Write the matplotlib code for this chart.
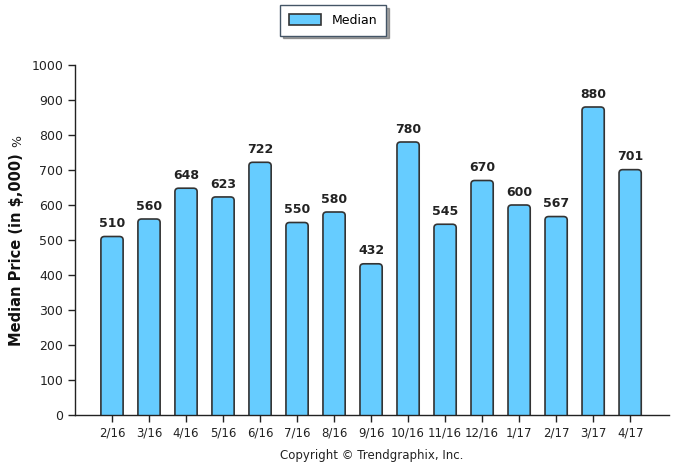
import matplotlib
matplotlib.use("Agg")
import matplotlib.pyplot as plt
from matplotlib.patches import FancyBboxPatch, Patch

categories = ["2/16", "3/16", "4/16", "5/16", "6/16", "7/16", "8/16", "9/16",
              "10/16", "11/16", "12/16", "1/17", "2/17", "3/17", "4/17"]
median = [510, 560, 648, 623, 722, 550, 580, 432, 780, 545, 670, 600, 567, 880, 701]
yticks = [0, 100, 200, 300, 400, 500, 600, 700, 800, 900, 1000]

plt.rcParams['font.family'] = ['DejaVu Sans']
fig = plt.figure(figsize=(6.86, 4.70), dpi=100)
ax = fig.add_axes([75/686, 1-415/470, (669-75)/686, (415-65)/470])

x = list(range(len(categories)))
bars = ax.bar(x, median, width=0.6, color="#66CCFF", edgecolor="#333333",
              linewidth=1.2, zorder=2)
# rounded-corner versions of the bars, built from the bar geometry
for r in bars.patches:
    r.set_visible(False)
    bx, by = r.get_x(), r.get_y()
    bw, bh = r.get_width(), r.get_height()
    fp = FancyBboxPatch((bx, by - 20), bw, bh + 20,
                        boxstyle="round,pad=0,rounding_size=0.1",
                        mutation_aspect=100, facecolor="#66CCFF",
                        edgecolor="#333333", linewidth=1.2, zorder=2,
                        clip_on=True)
    ax.add_patch(fp)

for xi, v in zip(x, median):
    ax.text(xi, v + 18, str(v), ha="center", va="bottom", fontsize=9,
            fontweight="bold", color="#222222")

ax.set_xlim(-1, 15.05)
ax.set_ylim(0, 1000)
ax.set_xticks(x)
ax.set_xticklabels(categories, fontsize=8.5, color="#222222")
ax.set_yticks(yticks)
ax.set_yticklabels([str(t) for t in yticks], fontsize=9, color="#222222")
ax.spines["top"].set_visible(False)
ax.spines["right"].set_visible(False)
for s in ("left", "bottom"):
    ax.spines[s].set_color("#222222")
    ax.spines[s].set_linewidth(1.0)
ax.spines["bottom"].set_zorder(3)
ax.tick_params(axis="both", length=5, color="#222222", width=1)
ax.tick_params(axis="x", pad=3)

fig.text(17/686, 1-250/470, "Median Price (in $,000)", rotation=90,
         ha="center", va="center", fontsize=10.5, fontweight="bold",
         color="#111111")
fig.text(18/686, 1-141/470, "%", rotation=90, ha="center", va="center",
         fontsize=9, color="#222222")

handle = Patch(facecolor="#66CCFF", edgecolor="#333333", linewidth=1.2,
               label="Median")
leg = ax.legend(handles=[handle], loc="upper center",
                bbox_to_anchor=(333/686, 1-5/470), borderaxespad=0,
                bbox_transform=fig.transFigure, frameon=True, fancybox=False,
                shadow=True, fontsize=9, handlelength=2.6, handleheight=0.9,
                borderpad=0.7, edgecolor="#445566")
leg.get_frame().set_linewidth(1.0)

fig.text(372/686, 1-455/470, "Copyright \u00a9 Trendgraphix, Inc.", ha="center",
         va="center", fontsize=8.5, color="#222222")

fig.savefig("out.png", dpi=100)
